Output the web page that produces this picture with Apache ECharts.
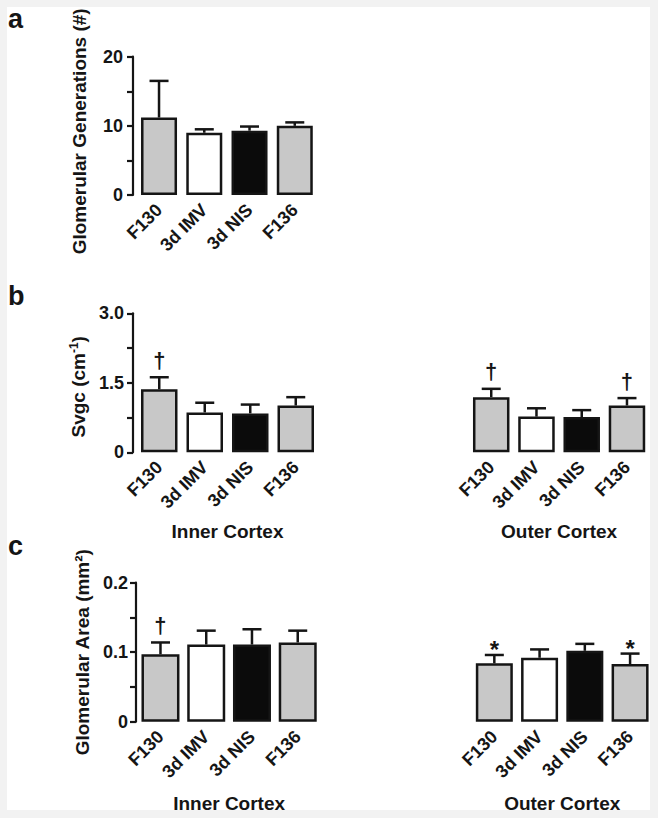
<!DOCTYPE html>
<html>
<head>
<meta charset="utf-8">
<script src="https://cdn.jsdelivr.net/npm/echarts@6/dist/echarts.min.js"></script>
<style>
html,body{margin:0;padding:0;background:#f2f2f2;}
#chart{width:658px;height:818px;}
</style>
</head>
<body>
<div id="chart"></div>
<script>
// ---- data ----
const categories = ['F130', '3d IMV', '3d NIS', 'F136'];

const genMean = [11.2, 9.0, 9.3, 10.0];
const genSem  = [5.3, 0.5, 0.6, 0.5];

const svInnerMean = [1.36, 0.86, 0.84, 1.01];
const svInnerSem  = [0.26, 0.21, 0.19, 0.18];
const svOuterMean = [1.19, 0.77, 0.76, 1.01];
const svOuterSem  = [0.18, 0.18, 0.15, 0.16];

const areaInnerMean = [0.097, 0.111, 0.111, 0.114];
const areaInnerSem  = [0.017, 0.020, 0.022, 0.017];
const areaOuterMean = [0.084, 0.092, 0.102, 0.083];
const areaOuterSem  = [0.012, 0.012, 0.010, 0.015];

const genMarks       = ['', '', '', ''];
const svInnerMarks   = ['\u2020', '', '', ''];
const svOuterMarks   = ['\u2020', '', '', '\u2020'];
const areaInnerMarks = ['\u2020', '', '', ''];
const areaOuterMarks = ['*', '', '', '*'];

const genTicks  = [0, 10, 20];
const svTicks   = [0, 1.5, 3.0];
const areaTicks = [0, 0.1, 0.2];
const svTickText   = ['0', '1.5', '3.0'];
const areaTickText = ['0', '0.1', '0.2'];

const groupInner = 'Inner Cortex';
const groupOuter = 'Outer Cortex';

// ---- styles ----
const FONT = "'Liberation Sans', Arial, Helvetica, sans-serif";
const INK = '#151515';
const fills = ['#c8c8c8', '#ffffff', '#0b0b0b', '#c8c8c8'];

const chart = echarts.init(document.getElementById('chart'), null, {renderer: 'svg'});

const grids = [
  {left: 136.4, top: 56.7,  width: 181, height: 138.3},
  {left: 136.5, top: 313.3, width: 182, height: 139},
  {left: 468.6, top: 313.3, width: 181, height: 139},
  {left: 137.6, top: 582.7, width: 183, height: 139},
  {left: 471.7, top: 582.7, width: 181, height: 139}
];

function xAxisFor(gi, name, gap) {
  return {
    type: 'category', gridIndex: gi, data: categories,
    axisLine: {show: false}, axisTick: {show: false},
    axisLabel: {rotate: 45, margin: 12, padding: [38, 0, 0, 0], fontSize: 18, fontWeight: 'bold', color: INK, fontFamily: FONT, interval: 0},
    name: name, nameLocation: 'middle', nameGap: gap,
    nameTextStyle: {fontSize: 19, fontWeight: 'bold', color: INK, fontFamily: FONT}
  };
}

function yAxisFor(gi, min, max, interval, show, offset, labelFmt, name, namePad, margin) {
  return {
    type: 'value', gridIndex: gi, min: min, max: max, interval: interval, show: show, offset: offset,
    axisLine: {show: true, lineStyle: {color: INK, width: 2.2}},
    axisTick: {show: true, inside: false, length: 6, lineStyle: {color: INK, width: 2.2}},
    splitLine: {show: false},
    axisLabel: {formatter: labelFmt, fontSize: 18, fontWeight: 'bold', color: INK, fontFamily: FONT, margin: margin},
    name: name, nameLocation: 'middle', nameGap: 44,
    nameTextStyle: {fontSize: 19, fontWeight: 'bold', color: INK, fontFamily: FONT, padding: namePad,
      rich: {
        n: {fontSize: 19, fontWeight: 'bold', color: INK, fontFamily: FONT},
        s: {fontSize: 12, fontWeight: 'bold', color: INK, fontFamily: FONT, verticalAlign: 'top', padding: [0, 0, 9, 0]}
      }
    }
  };
}

function fmtFrom(ticks, texts) {
  return function (v) {
    for (let i = 0; i < ticks.length; i++) {
      if (Math.abs(v - ticks[i]) < 1e-9) return texts ? texts[i] : String(ticks[i]);
    }
    return '';
  };
}

function barSeries(gi, means, bw) {
  return {
    type: 'bar', xAxisIndex: gi, yAxisIndex: gi, barWidth: bw, silent: true,
    data: means.map((v, i) => ({value: v, itemStyle: {color: fills[i], borderColor: INK, borderWidth: 2.5}})),
    z: 2
  };
}

function errSeries(gi, means, sems, marks) {
  return {
    type: 'custom', xAxisIndex: gi, yAxisIndex: gi, silent: true, clip: false, z: 3,
    data: means.map((v, i) => [i, v, v + sems[i]]),
    renderItem: function (params, api) {
      const i = params.dataIndex;
      const b = api.coord([api.value(0), api.value(1)]);
      const t = api.coord([api.value(0), api.value(2)]);
      const children = [
        {type: 'line', shape: {x1: b[0], y1: b[1], x2: b[0], y2: t[1]}, style: {stroke: INK, lineWidth: 2.5}},
        {type: 'line', shape: {x1: b[0] - 9.5, y1: t[1], x2: b[0] + 9.5, y2: t[1]}, style: {stroke: INK, lineWidth: 2.5}}
      ];
      const m = marks[i];
      if (m) {
        const star = m === '*';
        children.push({
          type: 'text', x: b[0], y: t[1] - (star ? 5.5 : 17),
          style: {text: m, fontSize: star ? 24 : 22, fontWeight: 'bold', fill: INK, fontFamily: FONT, align: 'center', verticalAlign: 'middle'}
        });
      }
      return {type: 'group', children: children};
    }
  };
}

const option = {
  backgroundColor: 'transparent',
  animation: false,
  graphic: [
    {type: 'rect', shape: {x: 7, y: 7, width: 643, height: 803}, style: {fill: '#ffffff'}, z: -10, silent: true},
    {type: 'text', left: 8, top: 5, style: {text: 'a', fontSize: 27, fontWeight: 'bold', fill: INK, fontFamily: FONT}},
    {type: 'text', left: 8, top: 282, style: {text: 'b', fontSize: 27, fontWeight: 'bold', fill: INK, fontFamily: FONT}},
    {type: 'text', left: 8, top: 532, style: {text: 'c', fontSize: 27, fontWeight: 'bold', fill: INK, fontFamily: FONT}}
  ],
  grid: grids,
  xAxis: [
    xAxisFor(0, '', 0),
    xAxisFor(1, groupInner, 70),
    xAxisFor(2, groupOuter, 70),
    xAxisFor(3, groupInner, 72),
    xAxisFor(4, groupOuter, 72)
  ],
  yAxis: [
    yAxisFor(0, 0, 20, 5, true, 3.4, fmtFrom(genTicks), 'Glomerular Generations (#)', [0, 11, 0, 0], 10),
    yAxisFor(1, 0, 3, 0.75, true, 3.5, fmtFrom(svTicks, svTickText), '{n|Svgc (cm}{s|-1}{n|)}', [0, 8, 0, 0], 9),
    yAxisFor(2, 0, 3, 0.75, false, 0, fmtFrom(svTicks, svTickText), '', 0, 9),
    yAxisFor(3, 0, 0.2, 0.05, true, 1.6, fmtFrom(areaTicks, areaTickText), 'Glomerular Area (mm\u00B2)', [0, 0, 0, 0], 8),
    yAxisFor(4, 0, 0.2, 0.05, false, 0, fmtFrom(areaTicks, areaTickText), '', 0, 8)
  ],
  series: [
    barSeries(0, genMean, 36),
    errSeries(0, genMean, genSem, genMarks),
    barSeries(1, svInnerMean, 36.5),
    errSeries(1, svInnerMean, svInnerSem, svInnerMarks),
    barSeries(2, svOuterMean, 36.5),
    errSeries(2, svOuterMean, svOuterSem, svOuterMarks),
    barSeries(3, areaInnerMean, 38),
    errSeries(3, areaInnerMean, areaInnerSem, areaInnerMarks),
    barSeries(4, areaOuterMean, 37),
    errSeries(4, areaOuterMean, areaOuterSem, areaOuterMarks)
  ]
};
chart.setOption(option);
</script>
</body>
</html>
